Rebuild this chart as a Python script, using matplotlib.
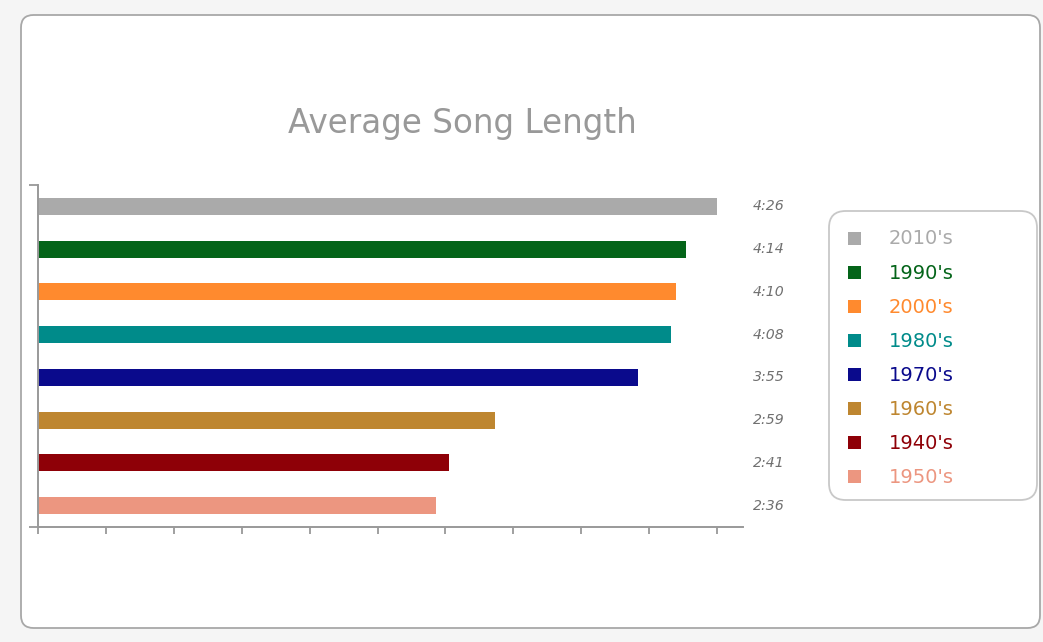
import numpy as np
import matplotlib
matplotlib.use("Agg")
import matplotlib.pyplot as plt
from matplotlib.patches import FancyBboxPatch, Rectangle

# Average song length per decade, in seconds (longest first)
decades = ["2010's", "1990's", "2000's", "1980's", "1970's", "1960's", "1940's", "1950's"]
seconds = [266, 254, 250, 248, 235, 179, 161, 156]
colors = ["#aaaaaa", "#046419", "#ff8a2e", "#008b8a", "#0a0a8c", "#be8630", "#8e0007", "#ec9680"]

W, H = 1043, 642
fig = plt.figure(figsize=(W / 100, H / 100), dpi=100)
fig.patch.set_facecolor("#f5f5f5")

def fx(px):
    return px / W

def fy(py):
    return 1 - py / H

# white rounded panel behind everything
panel = FancyBboxPatch((fx(21), fy(628)), fx(1040) - fx(21), fy(15) - fy(628),
                       boxstyle="round,pad=0,rounding_size=0.012",
                       transform=fig.transFigure, facecolor="white",
                       edgecolor="#a8a8a8", linewidth=1.3, zorder=-10,
                       mutation_aspect=W / H)
fig.patches.append(panel)

fig.text(fx(462), fy(124), "Average Song Length", ha="center", va="center",
         fontsize=23.5, color="#999999", family="DejaVu Sans")

ax = fig.add_axes([fx(38), fy(527), fx(743) - fx(38), fy(185) - fy(527)])
ax.set_zorder(5)
ax.set_facecolor("none")

y = np.arange(len(decades))
ax.barh(y, seconds, height=0.4, color=colors, edgecolor="none", zorder=2)

xmax = max(seconds)
ax.set_xlim(0, xmax * 705 / 679)
ax.set_ylim(len(decades) - 0.5, -0.5)
ax.set_xticks(np.arange(11) * xmax / 10)
ax.set_xticklabels([])
ax.set_yticks([-0.5, len(decades) - 0.5])
ax.set_yticklabels([])

for side in ("top", "right"):
    ax.spines[side].set_visible(False)
for side in ("left", "bottom"):
    ax.spines[side].set_color("#999999")
    ax.spines[side].set_linewidth(1.4)
ax.tick_params(axis="x", direction="out", length=5, width=1.3, color="#999999")
ax.tick_params(axis="y", direction="out", length=6.5, width=1.3, color="#999999")

for yi, s in zip(y, seconds):
    ax.text(1.014, yi, f"{s // 60}:{s % 60:02d}", transform=ax.get_yaxis_transform(),
            ha="left", va="center", fontsize=10.2, style="italic", color="#707070",
            clip_on=False)

# legend box
leg = FancyBboxPatch((fx(829), fy(500)), fx(1037) - fx(829), fy(211) - fy(500),
                     boxstyle="round,pad=0,rounding_size=0.016",
                     transform=fig.transFigure, facecolor="white",
                     edgecolor="#c8c8c8", linewidth=1.3, zorder=1,
                     mutation_aspect=W / H)
fig.patches.append(leg)
for i, (lab, c) in enumerate(zip(decades, colors)):
    cy = 238 + i * 34.1
    fig.patches.append(Rectangle((fx(848), fy(cy + 6.5)), fx(13), 13 / H,
                                 transform=fig.transFigure, facecolor=c,
                                 edgecolor="none", zorder=2))
    fig.text(fx(889), fy(cy + 1), lab, ha="left", va="center", fontsize=14,
             color=c, family="DejaVu Sans")

fig.savefig("out.png", dpi=100, facecolor=fig.get_facecolor())
